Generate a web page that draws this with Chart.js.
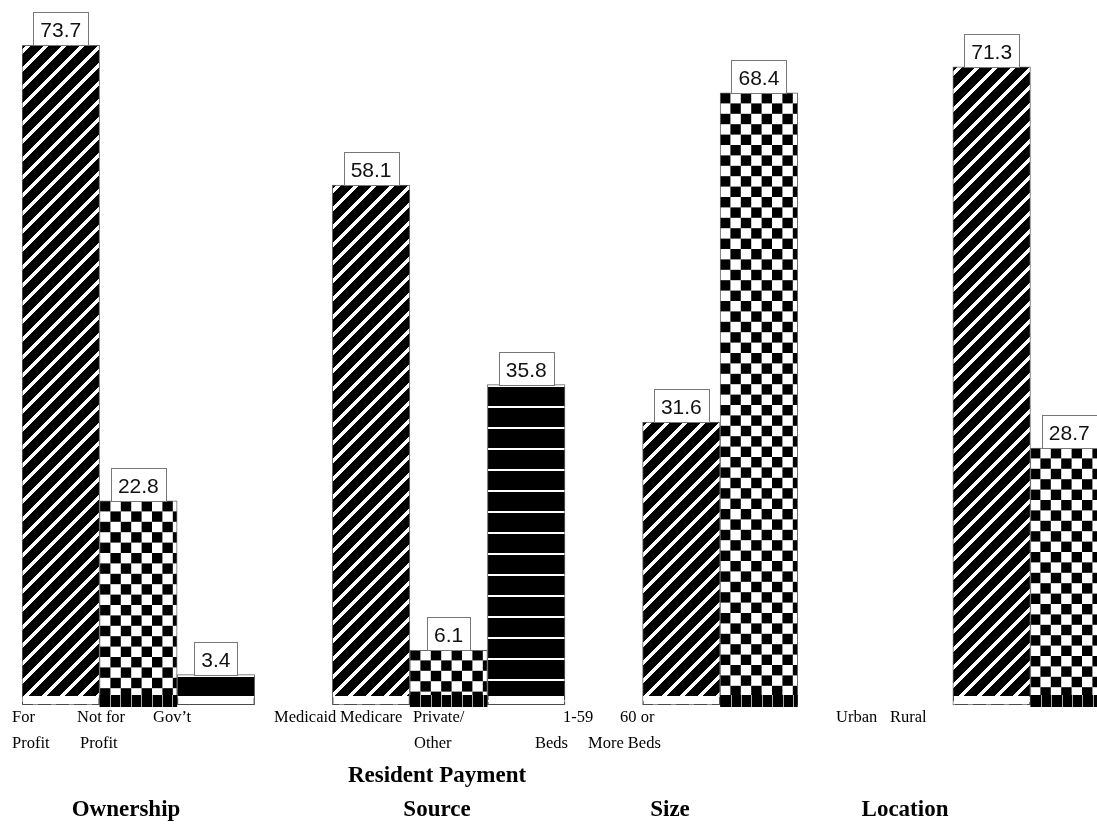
<!DOCTYPE html>
<html>
<head>
<meta charset="utf-8">
<script src="https://cdn.jsdelivr.net/npm/chart.js@4/dist/chart.umd.min.js"></script>
<style>
  html, body { margin: 0; padding: 0; background: #fff; overflow: hidden; }
  #wrap { width: 1110px; height: 825px; }
</style>
</head>
<body>
<div id="wrap"><canvas id="chart" width="1110" height="825"></canvas></div>
<script>
// values (percent of facilities)
const ownershipLabels = [['For', 'Profit'], ['Not for', 'Profit'], ['Gov’t']];
const ownershipValues = [73.7, 22.8, 3.4];

const paymentLabels = [['Medicaid'], ['Medicare'], ['Private/', 'Other']];
const paymentValues = [58.1, 6.1, 35.8];

const sizeLabels = [['1-59', 'Beds'], ['60 or', 'More Beds']];
const sizeValues = [31.6, 68.4];

const locationLabels = [['Urban'], ['Rural']];
const locationValues = [71.3, 28.7];

const groupTitles = [['Ownership'], ['Resident Payment', 'Source'], ['Size'], ['Location']];

const groups = [
    { labels: ownershipLabels, values: ownershipValues, gapAfter: 1 },
    { labels: paymentLabels, values: paymentValues, gapAfter: 1 },
    { labels: sizeLabels, values: sizeValues, gapAfter: 2 },
    { labels: locationLabels, values: locationValues, gapAfter: 0 }
];

// build slot arrays (empty slots between groups)
const slotLabels = [];
const slotValues = [];
const slotKind = [];   // 0 diagonal, 1 checker, 2 horizontal stripes
groups.forEach(g => {
    g.labels.forEach((l, i) => {
        slotLabels.push(l);
        slotValues.push(g.values[i]);
        slotKind.push(i);
    });
    for (let k = 0; k < g.gapAfter; k++) {
        slotLabels.push('');
        slotValues.push(null);
        slotKind.push(-1);
    }
});

function makeTile(w, h, draw) {
    const c = document.createElement('canvas');
    c.width = w;
    c.height = h;
    draw(c.getContext('2d'));
    return c;
}

// "/" stripes, drawn pixel by pixel so the tile repeats without seams
const diagTile = makeTile(18, 18, g => {
    g.fillStyle = '#000';
    g.fillRect(0, 0, 18, 18);
    g.fillStyle = '#fff';
    for (let y = 0; y < 18; y++) {
        for (let x = 0; x < 18; x++) {
            if ((x + y + 14) % 18 < 5) g.fillRect(x, y, 1, 1);
        }
    }
});

const checkTile = makeTile(104, 104, g => {
    g.fillStyle = '#fff';
    g.fillRect(0, 0, 104, 104);
    g.fillStyle = '#000';
    for (let r = 0; r < 10; r++) {
        for (let c = 0; c < 10; c++) {
            if ((r + c) % 2 === 0) g.fillRect(c * 10.4, r * 10.4, 10.4, 10.4);
        }
    }
});

const hstripeTile = makeTile(8, 21, g => {
    g.fillStyle = '#000';
    g.fillRect(0, 0, 8, 21);
    g.fillStyle = '#fff';
    g.fillRect(0, 0, 8, 2);
});

const ctx = document.getElementById('chart').getContext('2d');
const tiles = [diagTile, checkTile, hstripeTile];
const fills = slotKind.map(k => k < 0 ? 'rgba(0,0,0,0)' : ctx.createPattern(tiles[k], 'repeat'));

// keep each pattern anchored to its own bar's top-left corner
const patternAnchor = {
    id: 'patternAnchor',
    beforeDatasetsDraw(chart) {
        chart.getDatasetMeta(0).data.forEach((bar, i) => {
            const p = fills[i];
            if (slotValues[i] == null || !(p instanceof CanvasPattern)) return;
            p.setTransform(new DOMMatrix([1, 0, 0, 1, Math.round(bar.x - bar.width / 2), Math.round(bar.y)]));
        });
    }
};

const barDecor = {
    id: 'barDecor',
    afterDatasetsDraw(chart) {
        const c = chart.ctx;
        const meta = chart.getDatasetMeta(0);
        c.save();
        meta.data.forEach((bar, i) => {
            if (slotValues[i] == null) return;
            const left = bar.x - bar.width / 2;
            const right = bar.x + bar.width / 2;
            const base = bar.base;
            if (slotKind[i] === 1) {
                // dark strip at the foot of the checker bars
                c.fillStyle = '#000';
                c.fillRect(left, base - 10, right - left, 12);
                c.fillStyle = '#aaa';
                for (let x = left + 10.4; x < right - 1; x += 10.4) {
                    c.fillRect(Math.round(x), base - 10, 1, 12);
                }
            } else {
                c.fillStyle = '#fff';
                c.fillRect(left + 1, base - 9, right - left - 2, 8);
            }
        });

        // value boxes
        c.font = '21px "Liberation Sans", Arial, sans-serif';
        c.textAlign = 'center';
        c.textBaseline = 'alphabetic';
        meta.data.forEach((bar, i) => {
            if (slotValues[i] == null) return;
            const txt = slotValues[i].toFixed(1);
            const w = Math.round(c.measureText(txt).width + 14);
            const h = 33;
            const x0 = Math.round(bar.x - w / 2) + 0.5;
            const y0 = Math.round(bar.y) - h + 0.5;
            c.fillStyle = '#fff';
            c.fillRect(x0, y0, w, h);
            c.strokeStyle = '#777';
            c.lineWidth = 1;
            c.strokeRect(x0, y0, w, h);
            c.fillStyle = '#111';
            c.fillText(txt, bar.x, y0 + 24.5);
        });
        c.restore();
    }
};

// text layout under the bars (left edges of each line, per bar)
const labelLeft = [[12, 12], [77, 80], [153], null, [274], [340], [413, 414], null, [563, 535], [620, 588], null, null, [836], [890]];
const titleCenter = [126, 437, 670, 905];

const textDecor = {
    id: 'textDecor',
    afterDraw(chart) {
        const c = chart.ctx;
        c.save();
        c.fillStyle = '#000';
        c.textAlign = 'left';
        c.textBaseline = 'alphabetic';
        c.font = '16.5px "Liberation Serif", "Times New Roman", serif';
        slotLabels.forEach((lines, i) => {
            if (!lines || !labelLeft[i]) return;
            lines.forEach((ln, j) => c.fillText(ln, labelLeft[i][j], 722 + j * 26));
        });
        c.textAlign = 'center';
        c.font = 'bold 23px "Liberation Serif", "Times New Roman", serif';
        groupTitles.forEach((t, i) => {
            if (t.length === 2) {
                c.fillText(t[0], titleCenter[i], 782);
                c.fillText(t[1], titleCenter[i], 816);
            } else {
                c.fillText(t[0], titleCenter[i], 816);
            }
        });
        c.restore();
    }
};

new Chart(ctx, {
    type: 'bar',
    data: {
        labels: slotLabels.map((l, i) => 'slot' + i),
        datasets: [{
            data: slotValues,
            backgroundColor: fills,
            hoverBackgroundColor: fills,
            borderColor: '#666',
            borderWidth: 1,
            borderSkipped: false,
            barPercentage: 1,
            categoryPercentage: 1
        }]
    },
    options: {
        responsive: false,
        animation: false,
        events: [],
        layout: { padding: { left: 22, right: 2, top: 0, bottom: 120 } },
        plugins: { legend: { display: false }, tooltip: { enabled: false } },
        scales: {
            x: { display: false },
            y: { display: false, min: 0, max: 78.77 }
        }
    },
    plugins: [patternAnchor, barDecor, textDecor]
});
</script>
</body>
</html>
